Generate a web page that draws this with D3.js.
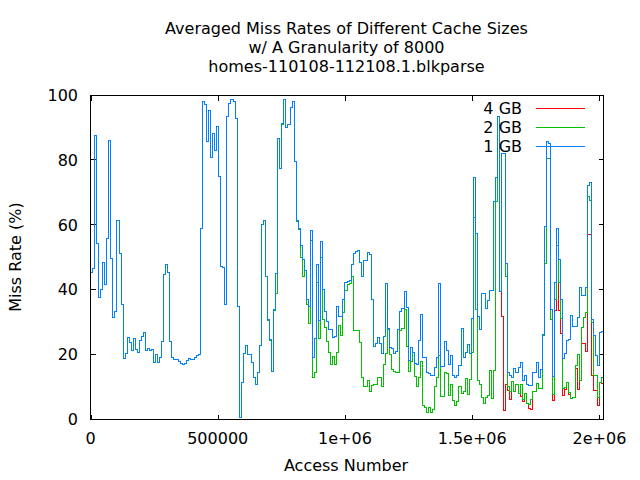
<!DOCTYPE html>
<html><head><meta charset="utf-8">
<script src="https://cdn.jsdelivr.net/npm/d3@7"></script>
<style>body{margin:0;background:#fff}svg{display:block}text{font-family:"DejaVu Sans";fill:#000}</style>
</head><body><svg id="c" width="640" height="480"></svg>
<script>
const granularity = 8000;
const titleLines = ["Averaged Miss Rates of Different Cache Sizes","w/ A Granularity of 8000","homes-110108-112108.1.blkparse"];
const seriesNames = ["4 GB","2 GB","1 GB"];
const seriesColors = ["#ff0000","#00c000","#0080ff"];
const xTicks = [0,500000,1000000,1500000,2000000];
const xTickLabels = ["0","500000","1e+06","1.5e+06","2e+06"];
const yTicks = [0,20,40,60,80,100];

const miss1GB = [
45.5,46.5,87.8,54.3,37.6,40.1,48.4,41.7,55.8,86.0,
49.6,31.6,33.3,61.4,51.2,35.6,18.8,20.3,25.3,23.7,
21.3,24.9,21.6,20.7,24.5,25.5,26.8,21.3,22.0,21.3,
21.6,17.5,20.0,17.7,19.1,24.1,44.9,47.9,45.3,24.1,
19.1,18.5,18.5,18.0,17.4,16.9,17.4,18.2,18.8,18.4,
18.4,19.1,19.6,20.0,58.9,98.1,97.3,85.8,95.3,80.8,
88.3,83.1,90.4,75.1,47.2,46.8,35.6,93.5,97.6,98.8,
98.2,92.9,35.0,0.5,11.3,20.3,22.8,20.0,20.0,17.5,
12.9,10.7,14.6,22.8,60.2,61.3,44.2,30.9,24.7,14.8,
33.8,45.2,86.8,77.4,91.4,98.7,90.1,91.0,96.3,98.1,
79.7,61.4,58.9,53.7,49.4,46.0,37.1,34.8,58.2,19.0,
24.9,47.9,30.6,55.0,40.1,33.2,30.4,27.8,27.8,25.3,
25.5,34.8,31.9,31.9,37.1,42.3,42.5,43.0,47.9,51.2,
52.0,52.2,48.4,44.2,49.1,49.1,51.5,51.0,37.1,22.6,
23.4,25.3,23.4,20.5,25.7,42.1,28.0,22.3,22.0,20.3,
21.1,27.7,33.4,34.2,39.5,34.7,18.2,22.3,20.8,17.4,
17.0,24.4,32.4,19.1,19.1,14.6,14.2,13.6,13.6,16.2,
19.1,41.9,16.4,16.4,24.2,21.3,16.9,19.6,13.6,13.1,
13.7,16.6,28.0,19.1,20.8,23.1,20.3,31.2,74.6,57.4,
31.9,27.8,38.8,38.8,34.2,36.8,39.9,39.9,67.2,74.6,
93.5,39.5,82.1,82.1,48.1,14.6,13.6,13.1,15.8,14.4,
16.1,17.5,12.0,13.6,10.9,10.4,10.4,14.6,14.6,17.7,
13.1,15.4,26.3,59.5,85.8,85.1,33.9,13.2,42.3,58.9,
49.4,37.1,18.8,20.3,24.5,24.8,32.1,28.8,28.8,31.5,
40.6,38.3,38.3,40.6,72.3,73.1,30.9,25.8,19.9,16.7,
26.8,27.3,22.0];

const miss2GB = [
45.5,46.5,87.8,54.3,37.6,40.1,48.4,41.7,55.8,86.0,
49.6,31.6,33.3,61.4,51.2,35.6,18.8,20.3,25.3,23.7,
21.3,24.9,21.6,20.7,24.5,25.5,26.8,21.3,22.0,21.3,
21.6,17.5,20.0,17.7,19.1,24.1,44.9,47.9,45.3,24.1,
19.1,18.5,18.5,18.0,17.4,16.9,17.4,18.2,18.8,18.4,
18.4,19.1,19.6,20.0,58.9,98.1,97.3,85.8,95.3,80.8,
88.3,83.1,90.4,75.1,47.2,46.8,35.6,93.5,97.6,98.8,
98.2,92.9,35.0,0.5,11.3,20.3,22.8,20.0,20.0,17.5,
12.9,10.7,14.6,22.8,60.2,61.3,44.0,30.7,24.5,14.8,
33.5,38.8,86.8,77.4,90.9,98.7,90.1,91.0,96.3,98.1,
79.5,61.2,58.6,50.0,44.2,46.0,35.6,29.6,55.3,12.9,
14.6,42.3,24.9,50.1,30.9,28.4,24.2,20.8,16.9,19.5,
16.9,20.8,29.0,25.8,32.9,39.9,41.7,42.0,44.2,27.6,
27.6,27.6,23.7,12.9,10.2,10.2,12.0,8.7,10.5,10.7,
10.7,12.9,12.9,10.2,16.9,20.3,27.7,20.0,15.3,14.8,
14.4,14.4,27.6,28.2,34.0,22.6,14.8,18.0,20.7,13.4,
10.2,12.9,18.0,4.2,3.6,2.3,3.6,2.3,3.0,10.3,
12.9,19.9,7.2,7.2,14.6,14.2,7.4,10.7,5.9,4.2,
5.6,10.2,8.1,8.6,12.6,7.7,12.3,20.8,62.5,33.9,
12.0,10.7,6.9,4.9,6.9,7.4,15.2,6.4,15.2,67.2,
93.5,39.5,82.1,82.1,44.0,10.2,8.6,11.6,8.6,10.7,
8.1,10.7,6.3,8.1,5.0,4.5,6.3,8.6,8.6,11.1,
9.6,9.6,25.8,48.0,80.5,80.5,30.9,7.6,37.1,53.7,
42.3,31.2,9.7,10.0,11.3,8.2,6.4,6.8,16.7,20.1,
12.0,28.3,31.4,33.0,68.7,67.7,30.0,13.7,13.7,6.7,
11.5,13.1,9.7];

const miss4GB = [
45.5,46.5,87.8,54.3,37.6,40.1,48.4,41.7,55.8,86.0,
49.6,31.6,33.3,61.4,51.2,35.6,18.8,20.3,25.3,23.7,
21.3,24.9,21.6,20.7,24.5,25.5,26.8,21.3,22.0,21.3,
21.6,17.5,20.0,17.7,19.1,24.1,44.9,47.9,45.3,24.1,
19.1,18.5,18.5,18.0,17.4,16.9,17.4,18.2,18.8,18.4,
18.4,19.1,19.6,20.0,58.9,98.1,97.3,85.8,95.3,80.8,
88.3,83.1,90.4,75.1,47.2,46.8,35.6,93.5,97.6,98.8,
98.2,92.9,35.0,0.5,11.3,20.3,22.8,20.0,20.0,17.5,
12.9,10.7,14.6,22.8,60.2,61.3,44.0,30.7,24.5,14.8,
33.5,38.8,86.8,77.4,90.9,98.7,90.1,91.0,96.3,98.1,
79.5,61.2,58.6,50.0,44.2,46.0,35.6,29.6,55.3,12.9,
14.6,42.3,24.9,50.1,30.9,28.4,24.2,20.8,16.9,19.5,
16.9,20.8,29.0,25.8,32.9,39.9,41.7,42.0,44.2,27.6,
27.6,27.6,23.7,12.9,10.2,10.2,12.0,8.7,10.5,10.7,
10.7,12.9,12.9,10.2,16.9,20.3,27.7,20.0,15.3,14.8,
14.4,14.4,27.6,28.2,34.0,22.6,14.8,18.0,20.7,13.4,
10.2,12.9,18.0,4.2,3.6,2.3,3.6,2.3,3.0,10.3,
12.9,19.9,7.2,7.2,14.6,14.2,7.4,10.7,5.9,4.2,
5.6,10.2,8.1,8.6,12.6,7.7,12.3,20.8,62.5,33.9,
12.0,10.7,6.9,4.9,6.9,7.4,15.2,6.4,15.2,67.2,
93.5,39.5,31.9,2.9,10.9,9.0,6.3,11.6,8.6,10.7,
8.1,7.0,5.5,8.1,5.0,3.5,3.0,8.6,8.6,11.1,
9.6,9.6,25.8,48.0,80.5,80.5,30.9,5.8,33.5,53.7,
33.5,26.6,7.5,9.3,11.3,7.6,6.4,6.8,15.8,9.3,
12.0,23.4,23.4,21.0,57.2,57.2,13.7,8.9,8.9,4.2,
11.3,11.1,8.5];

const seriesValues = [miss4GB, miss2GB, miss1GB];

const svg = d3.select("#c");
const L = 90.5, R = 603.5, T = 95.5, B = 419.5;
const xMax = (miss1GB.length - 1) * granularity;
const x = d3.scaleLinear().domain([0, xMax]).range([L, R]);
const y = d3.scaleLinear().domain([0, 100]).range([B, T]);

svg.append("rect").attr("width",640).attr("height",480).attr("fill","#fff");

svg.append("defs").append("clipPath").attr("id","clip")
  .append("rect").attr("x",L).attr("y",T-1).attr("width",R-L).attr("height",B-T+2);

// titles
svg.selectAll("text.title").data(titleLines).join("text")
  .attr("class","title").attr("x",346.5).attr("y",(d,i)=>34+i*19)
  .attr("text-anchor","middle").attr("font-size",16).text(d=>d);

// axes (ticks inward, mirrored)
const tl = 5;
const g = svg.append("g").attr("shape-rendering","crispEdges").attr("stroke","#000").attr("stroke-width",1);
yTicks.forEach(v=>{
  const yy = Math.round(y(v))-0.5;
  g.append("line").attr("x1",L).attr("x2",L+tl).attr("y1",yy).attr("y2",yy);
  g.append("line").attr("x1",R).attr("x2",R-tl).attr("y1",yy).attr("y2",yy);
});
xTicks.forEach(v=>{
  const xx = Math.round(x(v))+0.5;
  g.append("line").attr("x1",xx).attr("x2",xx).attr("y1",B).attr("y2",B-tl);
  g.append("line").attr("x1",xx).attr("x2",xx).attr("y1",T).attr("y2",T+tl);
});

svg.selectAll("text.ytick").data(yTicks).join("text")
  .attr("class","ytick").attr("x",78).attr("y",d=>y(d)+5.5)
  .attr("text-anchor","end").attr("font-size",16).text(d=>d);
svg.selectAll("text.xtick").data(xTicks).join("text")
  .attr("class","xtick").attr("x",d=>x(d)).attr("y",444)
  .attr("text-anchor","middle").attr("font-size",16).text((d,i)=>xTickLabels[i]);

svg.append("text").attr("x",346).attr("y",471).attr("text-anchor","middle")
  .attr("font-size",16).text("Access Number");
svg.append("text").attr("transform","translate(21,257) rotate(-90)")
  .attr("text-anchor","middle").attr("font-size",16).text("Miss Rate (%)");

// series
const line = d3.line().curve(d3.curveStepAfter)
  .x((d,i)=>x(i*granularity)).y(d=>y(d));
const plots = svg.append("g").attr("clip-path","url(#clip)");
seriesValues.forEach((vals,si)=>{
  plots.append("path").datum(vals).attr("d",line)
    .attr("fill","none").attr("stroke",seriesColors[si]).attr("stroke-width",1)
    .attr("shape-rendering","crispEdges");
});

// legend
seriesNames.forEach((name,i)=>{
  const ly = 108.5 + i*19;
  svg.append("text").attr("x",522).attr("y",ly+5).attr("text-anchor","end")
    .attr("font-size",16).text(name);
  svg.append("line").attr("x1",536).attr("x2",585).attr("y1",ly).attr("y2",ly)
    .attr("stroke",seriesColors[i]).attr("stroke-width",1).attr("shape-rendering","crispEdges");
});

// border
svg.append("rect").attr("x",L).attr("y",T).attr("width",R-L).attr("height",B-T)
  .attr("fill","none").attr("stroke","#000").attr("shape-rendering","crispEdges");
</script></body></html>
